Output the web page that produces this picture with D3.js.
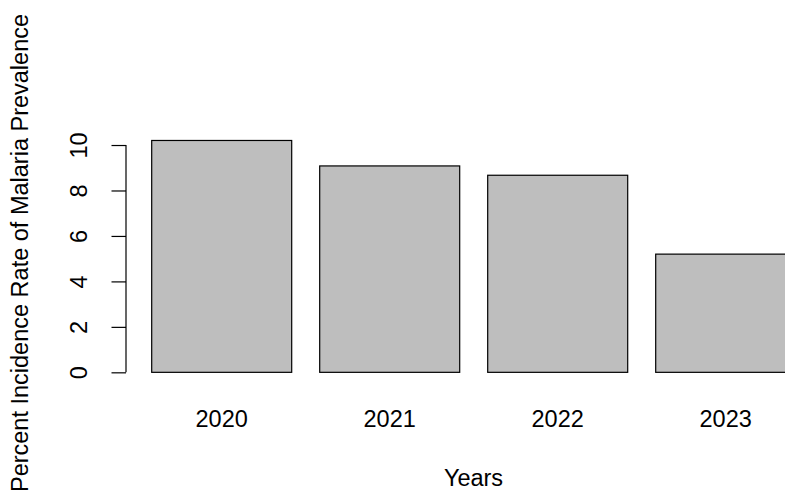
<!DOCTYPE html>
<html><head><meta charset="utf-8">
<script src="https://cdn.jsdelivr.net/npm/d3@7"></script>
<style>body{margin:0;background:#fff;overflow:hidden}svg{display:block}text{font-family:"Liberation Sans",Arial,Helvetica,sans-serif;fill:#000}</style>
</head><body><svg id="c" width="785" height="504"></svg>
<script>
const years = ["2020", "2021", "2022", "2023"];
const rates = [10.2, 9.08, 8.67, 5.2];
const yTicks = [0, 2, 4, 6, 8, 10];
const xTitle = "Years";
const yTitle = "Percent Incidence Rate of Malaria Prevalence";

const svg = d3.select("#c");
const fs = 23.5;

const x = d3.scaleBand().domain(years).range([151.7, 795.7]).paddingInner(0.2 / 1.2).paddingOuter(0);
const y = d3.scaleLinear().domain([-0.408, 10.608]).range([381.6, 131.2]);
const axisX = 126;

// bars
svg.append("g").selectAll("rect").data(years).join("rect")
  .attr("x", d => x(d))
  .attr("width", x.bandwidth())
  .attr("y", (d, i) => y(rates[i]))
  .attr("height", (d, i) => y(0) - y(rates[i]))
  .attr("fill", "#bebebe")
  .attr("stroke", "#000")
  .attr("stroke-width", 1.2);

// y axis
const ga = svg.append("g").attr("transform", `translate(${axisX},0)`);
ga.call(d3.axisLeft(y).tickValues(yTicks).tickSize(14.5).tickSizeOuter(0).tickFormat(d3.format("d")));
ga.select(".domain").remove();
ga.selectAll(".tick line").attr("stroke", "#000").attr("stroke-width", 1.2);
ga.append("line").attr("x1", 0).attr("x2", 0)
  .attr("y1", y(yTicks[0])).attr("y2", y(yTicks[yTicks.length - 1]))
  .attr("stroke", "#000").attr("stroke-width", 1.2);
ga.selectAll(".tick text")
  .attr("x", null).attr("dy", null)
  .attr("transform", "translate(-39,0) rotate(-90)")
  .attr("text-anchor", "middle")
  .attr("font-size", fs)
  .style("font-family", '"Liberation Sans",Arial,Helvetica,sans-serif')
  .attr("fill", "#000");

// x category labels
svg.append("g").selectAll("text").data(years).join("text")
  .attr("x", d => x(d) + x.bandwidth() / 2)
  .attr("y", 427)
  .attr("text-anchor", "middle")
  .attr("font-size", fs)
  .text(d => d);

// titles
svg.append("text").attr("x", 473.5).attr("y", 486)
  .attr("text-anchor", "middle").attr("font-size", fs).text(xTitle);
svg.append("text").attr("transform", "translate(28,253) rotate(-90)")
  .attr("text-anchor", "middle").attr("font-size", fs).text(yTitle);
</script></body></html>
